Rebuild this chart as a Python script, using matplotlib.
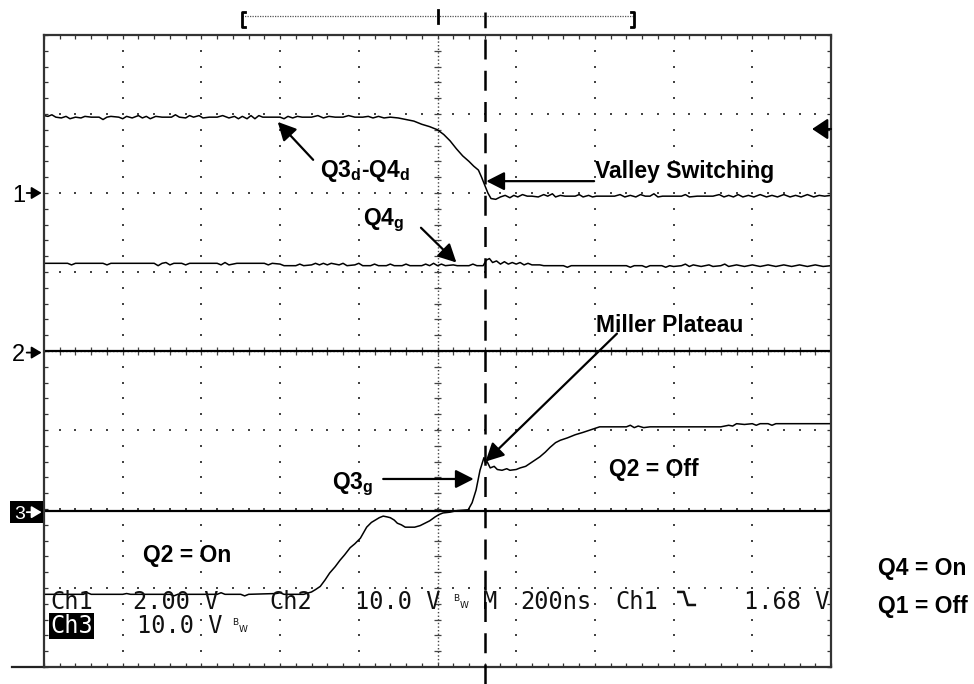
import numpy as np
import matplotlib
matplotlib.use("Agg")
import matplotlib.pyplot as plt
from matplotlib.ticker import MultipleLocator
from matplotlib.patches import Rectangle

plt.rcParams['mathtext.fontset'] = 'custom'
plt.rcParams['mathtext.rm'] = 'Liberation Sans:bold'
plt.rcParams['mathtext.it'] = 'Liberation Sans:bold'
plt.rcParams['mathtext.bf'] = 'Liberation Sans:bold'

# ---------------- data (screen divisions: x 0..10, y 0..8) ----------------
ch1_x = [0.00, 0.05, 0.10, 0.15, 0.22, 0.28, 0.33, 0.40, 0.47, 0.52, 0.60, 0.70, 0.75, 0.80, 0.85,
         0.95, 1.00, 1.05, 1.12, 1.20, 1.25, 1.30, 1.35, 1.42, 1.50, 1.62, 1.67, 1.72, 1.80, 1.85,
         1.90, 1.97, 2.02, 2.10, 2.20, 2.27, 2.35, 2.42, 2.47, 2.52, 2.58, 2.63, 2.68, 2.73, 2.78,
         2.90, 3.00, 3.05, 3.10, 3.16, 3.22, 3.28, 3.40, 3.48, 3.55, 3.62, 3.70, 3.80, 3.87, 3.95,
         4.05, 4.12, 4.18, 4.25, 4.32, 4.40, 4.50, 4.60, 4.70, 4.80, 4.90, 5.00, 5.08, 5.16, 5.24,
         5.32, 5.40, 5.46, 5.52, 5.56, 5.60, 5.64, 5.68, 5.74, 5.80, 5.86, 5.92, 5.97, 6.02, 6.08,
         6.14, 6.20, 6.28, 6.35, 6.40, 6.46, 6.50, 6.56, 6.62, 6.75, 6.80, 6.85, 6.92, 6.97, 7.02,
         7.15, 7.25, 7.32, 7.38, 7.45, 7.52, 7.58, 7.64, 7.70, 7.75, 7.80, 7.86, 8.00, 8.10, 8.15,
         8.20, 8.30, 8.40, 8.50, 8.58, 8.64, 8.70, 8.76, 8.82, 8.88, 8.95, 9.02, 9.10, 9.18, 9.25,
         9.32, 9.40, 9.48, 9.55, 9.62, 9.70, 9.78, 9.85, 9.92, 10.00]
ch1_y = [6.98, 6.97, 6.99, 6.96, 6.95, 6.97, 6.94, 6.96, 6.95, 6.97, 6.96, 6.96, 6.93, 6.96, 6.97,
         6.96, 6.94, 6.97, 6.95, 6.98, 6.95, 6.97, 6.94, 6.97, 6.96, 6.96, 6.99, 6.96, 6.95, 6.98,
         6.96, 6.98, 6.95, 6.96, 6.96, 6.98, 6.95, 6.97, 6.94, 6.97, 6.94, 6.98, 6.94, 6.98, 6.96,
         6.96, 6.96, 6.94, 6.97, 6.95, 6.97, 6.96, 6.96, 6.98, 6.95, 6.97, 6.96, 6.96, 6.98, 6.96,
         6.96, 6.97, 6.95, 6.97, 6.95, 6.96, 6.95, 6.93, 6.91, 6.87, 6.84, 6.80, 6.74, 6.66, 6.56,
         6.47, 6.40, 6.34, 6.29, 6.20, 6.10, 6.00, 5.93, 5.92, 5.95, 5.97, 5.94, 5.97, 5.95, 5.98,
         5.96, 5.96, 5.95, 5.98, 5.96, 5.99, 5.95, 5.97, 5.96, 5.96, 5.98, 5.95, 5.97, 5.95, 5.96,
         5.96, 5.96, 5.98, 5.95, 5.97, 5.95, 5.98, 5.96, 5.96, 5.99, 5.95, 5.96, 5.96, 5.96, 5.98,
         5.95, 5.96, 5.96, 5.96, 5.98, 5.95, 5.97, 5.95, 5.98, 5.95, 5.97, 5.95, 5.98, 5.95, 5.97,
         5.95, 5.98, 5.95, 5.97, 5.95, 5.98, 5.95, 5.97, 5.96, 5.97]

q4g_x = [0.00, 0.30, 0.35, 0.40, 0.75, 0.80, 0.85, 1.40, 1.45, 1.50, 1.55, 1.60, 1.65, 1.75, 1.80,
         1.85, 2.10, 2.20, 2.25, 2.30, 2.35, 2.45, 2.80, 2.85, 2.90, 3.00, 3.05, 3.20, 3.25, 3.30,
         3.40, 3.45, 3.50, 3.55, 3.60, 3.65, 3.75, 3.80, 3.85, 3.95, 4.00, 4.05, 4.15, 4.20, 4.25,
         4.35, 4.40, 4.45, 4.55, 4.60, 4.65, 4.80, 4.85, 4.90, 4.95, 5.00, 5.05, 5.10, 5.20, 5.25,
         5.40, 5.45, 5.50, 5.58, 5.62, 5.66, 5.70, 5.75, 5.80, 5.85, 5.90, 5.95, 6.00, 6.05, 6.10,
         6.15, 6.20, 6.30, 6.35, 6.60, 6.65, 6.70, 7.00, 7.40, 7.45, 7.50, 7.60, 7.65, 7.70, 7.85,
         7.90, 7.95, 8.00, 8.10, 8.15, 8.20, 8.25, 8.35, 8.45, 8.50, 8.60, 8.65, 8.70, 8.80, 8.90,
         9.00, 9.10, 9.20, 9.30, 9.40, 9.50, 9.60, 9.70, 9.80, 9.90, 10.00]
q4g_y = [5.11, 5.11, 5.09, 5.11, 5.11, 5.09, 5.11, 5.11, 5.08, 5.11, 5.12, 5.09, 5.11, 5.11, 5.09,
         5.11, 5.11, 5.11, 5.09, 5.12, 5.09, 5.11, 5.11, 5.09, 5.11, 5.10, 5.08, 5.08, 5.10, 5.08,
         5.09, 5.11, 5.09, 5.11, 5.09, 5.11, 5.09, 5.11, 5.08, 5.09, 5.11, 5.08, 5.08, 5.10, 5.08,
         5.08, 5.10, 5.08, 5.08, 5.10, 5.08, 5.08, 5.10, 5.08, 5.11, 5.08, 5.10, 5.08, 5.09, 5.08,
         5.08, 5.10, 5.08, 5.08, 5.15, 5.17, 5.12, 5.14, 5.10, 5.13, 5.10, 5.12, 5.10, 5.12, 5.09,
         5.11, 5.09, 5.09, 5.08, 5.08, 5.06, 5.08, 5.08, 5.08, 5.06, 5.08, 5.08, 5.06, 5.08, 5.08,
         5.06, 5.08, 5.07, 5.08, 5.10, 5.07, 5.09, 5.07, 5.09, 5.07, 5.08, 5.10, 5.07, 5.09, 5.07,
         5.09, 5.07, 5.09, 5.07, 5.09, 5.07, 5.09, 5.07, 5.09, 5.07, 5.08]

ch3_x = [0.00, 0.50, 0.55, 0.60, 1.00, 1.05, 1.10, 1.60, 1.65, 1.70, 2.00, 2.20, 2.25, 2.30, 2.50,
         2.55, 2.60, 2.95, 3.00, 3.05, 3.30, 3.40, 3.45, 3.51, 3.57, 3.63, 3.70, 3.76, 3.82, 3.89,
         3.95, 4.02, 4.06, 4.10, 4.16, 4.21, 4.26, 4.31, 4.36, 4.40, 4.45, 4.49, 4.54, 4.59, 4.65,
         4.71, 4.78, 4.84, 4.90, 4.97, 5.02, 5.07, 5.16, 5.25, 5.39, 5.44, 5.49, 5.54, 5.59, 5.61,
         5.63, 5.67, 5.72, 5.76, 5.82, 5.88, 5.92, 6.00, 6.05, 6.12, 6.18, 6.24, 6.30, 6.37, 6.43,
         6.50, 6.56, 6.65, 6.75, 6.85, 6.94, 7.00, 7.06, 7.20, 7.40, 7.45, 7.50, 7.55, 7.62, 7.70,
         8.00, 8.40, 8.60, 8.70, 8.75, 8.80, 8.90, 9.00, 9.05, 9.10, 9.20, 9.25, 9.30, 10.00]
ch3_y = [0.92, 0.92, 0.94, 0.92, 0.92, 0.93, 0.92, 0.92, 0.90, 0.92, 0.92, 0.92, 0.94, 0.92, 0.92,
         0.90, 0.92, 0.93, 0.94, 0.92, 0.92, 0.95, 0.98, 1.02, 1.10, 1.19, 1.27, 1.35, 1.42, 1.51,
         1.56, 1.63, 1.70, 1.77, 1.83, 1.86, 1.89, 1.91, 1.90, 1.89, 1.86, 1.82, 1.80, 1.77, 1.77,
         1.77, 1.79, 1.82, 1.85, 1.90, 1.93, 1.95, 1.96, 1.98, 1.99, 2.08, 2.24, 2.49, 2.65, 2.58,
         2.60, 2.52, 2.54, 2.50, 2.49, 2.51, 2.49, 2.50, 2.52, 2.54, 2.58, 2.62, 2.66, 2.72, 2.78,
         2.84, 2.87, 2.90, 2.94, 2.97, 3.00, 3.02, 3.04, 3.04, 3.04, 3.06, 3.03, 3.05, 3.03, 3.04,
         3.04, 3.04, 3.04, 3.06, 3.05, 3.08, 3.07, 3.08, 3.06, 3.08, 3.08, 3.06, 3.08, 3.08]

ch2_level = 4.0
ref_level = 1.98
cursor_x = 5.60
trig_level = 6.81

# ---------------- figure ----------------
W, H = 974, 684
fig = plt.figure(figsize=(W / 100, H / 100), dpi=100)
ax = fig.add_axes([44 / W, 17 / H, 787 / W, 632 / H])
ax.set_xlim(0, 10)
ax.set_ylim(0, 8)

for a in (ax.xaxis, ax.yaxis):
    a.set_major_locator(MultipleLocator(1))
    a.set_minor_locator(MultipleLocator(0.2))
ax.tick_params(which='both', direction='in', length=3, width=0.9, color='#333333',
               top=True, right=True, labelbottom=False, labelleft=False)
for s in ax.spines.values():
    s.set_linewidth(1.6)
    s.set_color('#333333')

# dotted graticule
ys = np.arange(0.2, 7.9, 0.2)
xs = np.arange(0.2, 9.9, 0.2)
for gx in [1, 2, 3, 4, 6, 7, 8, 9]:
    ax.plot(np.full_like(ys, gx), ys, ls='none', marker='s', ms=1.5, mew=0, color='#444444')
for gy in [1, 2, 3, 5, 6, 7]:
    ax.plot(xs, np.full_like(xs, gy), ls='none', marker='s', ms=1.5, mew=0, color='#444444')
ax.axvline(5, ls=(0, (1, 1.6)), lw=1.0, color='#444444')
ax.axhline(4, ls=(0, (1, 1.6)), lw=1.0, color='#444444')
ax.hlines(ys, 4.95, 5.05, lw=0.9, color='#444444')
ax.vlines(xs, 3.95, 4.05, lw=0.9, color='#444444')

# traces
ax.axhline(ch2_level, color='black', lw=1.6)
ax.axhline(ref_level, color='black', lw=1.6)
ax.plot(ch1_x, ch1_y, color='black', lw=1.1)
ax.plot(q4g_x, q4g_y, color='black', lw=1.1)
ax.plot(ch3_x, ch3_y, color='black', lw=1.1)

# cursor
ax.plot([cursor_x, cursor_x], [-0.22, 8.29], color='black', lw=1.8, dashes=(8, 4.5),
        clip_on=False, zorder=5)
# bottom line extension
ax.plot([-0.41, 0.0], [0, 0], color='#222222', lw=1.6, clip_on=False)

# top bracket
ax.plot([2.52, 7.50], [8.24, 8.24], ls=(0, (1, 1)), lw=0.9, color='#555555', clip_on=False)
ax.plot([2.56, 2.52, 2.52, 2.56], [8.29, 8.29, 8.10, 8.10], color='black', lw=2.0, clip_on=False)
ax.plot([7.46, 7.50, 7.50, 7.46], [8.29, 8.29, 8.10, 8.10], color='black', lw=2.0, clip_on=False)
ax.plot([5.0, 5.0], [8.15, 8.32], color='black', lw=2.0, clip_on=False)

# trigger level indicator
ax.annotate('', xy=(9.76, trig_level), xytext=(10.0, trig_level),
            arrowprops=dict(arrowstyle='-|>,head_length=0.6,head_width=0.4', color='black',
                            lw=1.5, mutation_scale=16, shrinkA=0, shrinkB=0),
            annotation_clip=False)

# channel markers
def ch_marker(label, y, fg, size):
    ax.text(-0.24, y, label, color=fg, family='Liberation Sans', fontsize=size,
            va='center_baseline', ha='right', zorder=6)
    ax.annotate('', xy=(-0.03, y), xytext=(-0.22, y),
                arrowprops=dict(arrowstyle='-|>,head_length=0.5,head_width=0.3', color=fg,
                                lw=1.3, mutation_scale=12, shrinkA=0, shrinkB=0),
                annotation_clip=False, zorder=6)
ch_marker('1', 6.0, 'black', 17)
ch_marker('2', 3.98, 'black', 17)
ax.add_patch(Rectangle((-0.43, 1.82), 0.415, 0.28, facecolor='black', edgecolor='none',
                       clip_on=False, transform=ax.transData, zorder=5))
ch_marker('3', 1.96, 'white', 14)

# annotations
bold = dict(family='Liberation Sans', weight='bold', fontsize=16.5, color='black',
            ha='left', va='baseline')
def arrow(tail, head):
    ax.annotate('', xy=head, xytext=tail,
                arrowprops=dict(arrowstyle='-|>,head_length=0.55,head_width=0.28', color='black',
                                lw=1.6, mutation_scale=20, shrinkA=0, shrinkB=0),
                annotation_clip=False)

ax.text(3.51, 6.20, r'$\mathrm{Q3_d}$-$\mathrm{Q4_d}$', **bold)
arrow((3.42, 6.42), (2.97, 6.90))
ax.text(7.00, 6.19, 'Valley Switching', **bold)
arrow((6.99, 6.15), (5.62, 6.15))
ax.text(4.05, 5.59, r'$\mathrm{Q4_g}$', **bold)
arrow((4.79, 5.56), (5.24, 5.12))
ax.text(7.01, 4.24, 'Miller Plateau', **bold)
arrow((7.28, 4.22), (5.61, 2.60))
ax.text(3.66, 2.25, r'$\mathrm{Q3_g}$', **bold)
arrow((4.31, 2.38), (5.46, 2.38))
ax.text(7.18, 2.42, 'Q2 = Off', **bold)
ax.text(1.26, 1.33, 'Q2 = On', **bold)
ax.text(10.60, 1.16, 'Q4 = On', **bold)
ax.text(10.60, 0.68, 'Q1 = Off', **bold)

# scope readout
ink = '#111111'
mono = dict(family='DejaVu Sans Mono', fontsize=17, color=ink, ha='left', va='baseline')
small = dict(family='DejaVu Sans', fontsize=6.5, color=ink, ha='left', va='baseline')
ax.text(0.076, 0.734, 'Ch1', **mono)
ax.text(1.13, 0.734, '2.00 V', **mono)
ax.text(2.87, 0.734, 'Ch2', **mono)
ax.text(3.95, 0.734, '10.0 V', **mono)
ax.text(5.20, 0.835, 'B', **small)
ax.text(5.28, 0.75, 'W', **small)
ax.text(5.58, 0.734, 'M', **mono)
ax.text(6.05, 0.734, '200ns', **mono)
ax.text(7.26, 0.734, 'Ch1', **mono)
ax.plot([8.06, 8.13, 8.18, 8.27], [0.95, 0.95, 0.785, 0.785], color=ink, lw=1.8)
ax.text(8.89, 0.734, '1.68 V', **mono)
ax.text(0.08, 0.43, 'Ch3', color='white', family='DejaVu Sans Mono', fontsize=17,
        ha='left', va='baseline',
        bbox=dict(facecolor='black', edgecolor='none', pad=1.0))
ax.text(1.18, 0.43, '10.0 V', **mono)
ax.text(2.39, 0.53, 'B', **small)
ax.text(2.47, 0.445, 'W', **small)

fig.savefig('out.png', dpi=100)
